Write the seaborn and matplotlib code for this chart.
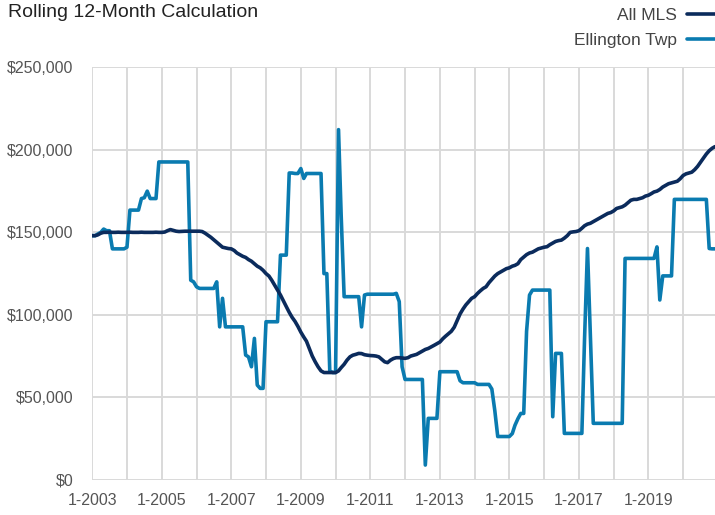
import pandas as pd
import matplotlib
matplotlib.use("Agg")
import matplotlib.pyplot as plt
import matplotlib.dates as mdates
from matplotlib.ticker import FuncFormatter
import seaborn as sns

# monthly values, Jan 2003 .. Dec 2020
months = pd.date_range("2003-01-01", "2020-12-01", freq="MS")

all_mls = [
    148000, 148000, 148500, 149500, 150000, 150000, 150100, 150000, 150000, 150100, 150000, 150000,  # 2003
    150000, 150100, 150000, 150000, 150000, 150100, 150000, 150000, 150000, 150000, 150100, 150000,  # 2004
    150000, 150200, 151000, 151700, 151200, 150700, 150500, 150600, 150700, 150700, 150700, 150700,  # 2005
    150700, 150700, 150500, 149500, 148300, 147000, 145500, 144000, 142500, 141000, 140600, 140200,  # 2006
    140000, 139000, 137500, 136500, 135500, 134800, 133500, 132500, 131000, 129500, 128500, 127000,  # 2007
    125000, 123500, 121000, 118000, 115000, 112000, 108500, 105000, 101500, 98500, 96000, 93000,     # 2008
    89500, 86500, 84000, 79500, 75000, 71500, 68500, 66000, 65000, 65000, 65000, 65000,              # 2009
    65000, 66000, 68000, 70000, 72500, 74500, 75500, 76000, 76600, 76500, 75800, 75500,              # 2010
    75300, 75200, 75000, 74500, 73000, 71500, 71000, 72500, 73500, 74000, 74000, 73800,              # 2011
    73600, 74000, 75000, 75500, 76000, 77000, 78000, 79000, 79600, 80500, 81500, 82500,              # 2012
    83500, 85500, 87000, 88500, 90000, 92500, 96500, 100500, 103500, 106000, 108000, 110000,         # 2013
    111000, 113000, 114500, 116000, 117000, 119500, 121500, 123500, 125000, 126000, 127000, 128000,  # 2014
    128500, 129500, 130000, 131000, 133500, 135000, 136500, 137500, 138000, 139000, 140000, 140500,  # 2015
    141000, 141300, 142500, 143500, 144500, 145000, 145300, 146500, 148000, 150000, 150300, 150500,  # 2016
    151000, 152500, 154000, 155000, 155500, 156500, 157500, 158500, 159500, 160500, 161500, 162000,  # 2017
    163000, 164500, 165000, 165500, 166500, 168000, 169500, 170000, 170000, 170500, 171000, 172000,  # 2018
    172500, 173500, 174500, 175000, 176000, 177500, 178500, 179500, 180000, 180500, 181000, 182500,  # 2019
    184500, 185500, 186000, 186500, 188000, 190000, 192500, 195000, 197500, 199500, 201000, 202000,  # 2020
]

ellington = [
    148000, 148000, 149000, 150000, 152000, 151000, 151000, 140000, 140000, 140000, 140000, 140000,  # 2003
    141000, 163500, 163500, 163500, 163500, 170500, 171000, 175000, 170500, 170500, 170500, 192700,  # 2004
    192700, 192700, 192700, 192700, 192700, 192700, 192700, 192700, 192700, 192700, 121000, 120000,  # 2005
    117000, 116000, 116000, 116000, 116000, 116000, 116000, 120000, 92700, 110000, 92700, 92700,     # 2006
    92700, 92700, 92700, 92700, 92700, 75600, 74500, 68500, 85700, 57400, 55400, 55400,              # 2007
    95800, 95800, 95800, 95800, 95800, 136200, 136200, 136200, 186000, 186000, 185700, 185700,       # 2008
    188700, 182700, 185700, 185700, 185700, 185700, 185700, 185700, 125000, 125000, 66000, 65000,    # 2009
    65000, 212300, 160000, 111000, 111000, 111000, 111000, 111000, 111000, 92700, 112000, 112500,    # 2010
    112500, 112500, 112500, 112500, 112500, 112500, 112500, 112500, 112500, 113000, 108000, 68500,   # 2011
    60800, 60800, 60800, 60800, 60800, 60800, 60800, 8900, 37200, 37200, 37200, 37200,               # 2012
    65500, 65500, 65500, 65500, 65500, 65500, 65500, 60000, 58800, 58800, 58800, 58800,              # 2013
    58800, 57800, 57800, 57800, 57800, 57800, 55000, 42000, 26200, 26200, 26200, 26200,              # 2014
    26200, 28000, 33000, 37000, 40200, 40200, 90000, 112000, 115000, 115000, 115000, 115000,         # 2015
    115000, 115000, 115000, 38200, 76600, 76600, 76600, 28100, 28100, 28100, 28100, 28100,           # 2016
    28100, 28100, 85000, 140200, 88000, 34200, 34200, 34200, 34200, 34200, 34200, 34200,             # 2017
    34200, 34200, 34200, 34200, 134200, 134200, 134200, 134200, 134200, 134200, 134200, 134200,      # 2018
    134200, 134200, 134200, 141200, 109000, 123600, 123600, 123600, 123600, 170000, 170000, 170000,  # 2019
    170000, 170000, 170000, 170000, 170000, 170000, 170000, 170000, 170000, 140200, 140000, 140000,  # 2020
]

series_names = ["All MLS", "Ellington Twp"]
series_colors = ["#0b2b5c", "#0a7bb0"]

df = pd.DataFrame({
    "Month": list(months) * 2,
    "Price": all_mls + ellington,
    "Area": [series_names[0]] * len(months) + [series_names[1]] * len(months),
})

sns.set_theme(style="white")
plt.rcParams["font.family"] = ["Liberation Sans Narrow", "Liberation Sans", "DejaVu Sans"]

fig = plt.figure(figsize=(7.15, 5.15), dpi=100)
ax = fig.add_axes([0.129, 0.0685, 0.871, 0.8005])

# Ellington first so All MLS sits on top, like the original
sns.lineplot(data=df[df["Area"] == series_names[1]], x="Month", y="Price",
             color=series_colors[1], linewidth=2.6, ax=ax, label=series_names[1], zorder=3)
sns.lineplot(data=df[df["Area"] == series_names[0]], x="Month", y="Price",
             color=series_colors[0], linewidth=2.6, ax=ax, label=series_names[0], zorder=4)

ax.set_ylim(0, 250000)
ax.set_xlim(months[0], months[-1])
ax.set_xlabel("")
ax.set_ylabel("")

grid_col = "#d9d9d9"
ax.yaxis.set_major_locator(plt.MultipleLocator(50000))
ax.yaxis.set_major_formatter(FuncFormatter(lambda v, p: "${:,.0f}".format(v)))
ax.xaxis.set_major_locator(mdates.YearLocator(1, month=1, day=1))
ax.xaxis.set_major_formatter(FuncFormatter(
    lambda v, p: "1-%d" % mdates.num2date(v).year if mdates.num2date(v).year % 2 == 1 else ""))

ax.grid(True, color=grid_col, linewidth=1.4, zorder=0)
for s in ax.spines.values():
    s.set_visible(False)
ax.tick_params(axis="both", length=4.5, width=1.4, color=grid_col, labelcolor="#555555",
               labelsize=11.5)
ax.tick_params(axis="y", pad=9)
ax.tick_params(axis="x", pad=5)

# legend top right: text then line
h, l = ax.get_legend_handles_labels()
order = [l.index(n) for n in series_names]
ax.legend([h[i] for i in order], [l[i] for i in order], loc="upper right",
          bbox_to_anchor=(1.0, 0.985), bbox_transform=fig.transFigure, frameon=False,
          markerfirst=False, fontsize=12.5, handlelength=1.6, handletextpad=0.6,
          labelspacing=0.6, borderaxespad=0.0, borderpad=0.0, labelcolor="#444444")

fig.text(0.011, 0.993, "Rolling 12-Month Calculation", ha="left", va="top",
         fontsize=14, color="#222222")

fig.savefig("out.png", dpi=100)
